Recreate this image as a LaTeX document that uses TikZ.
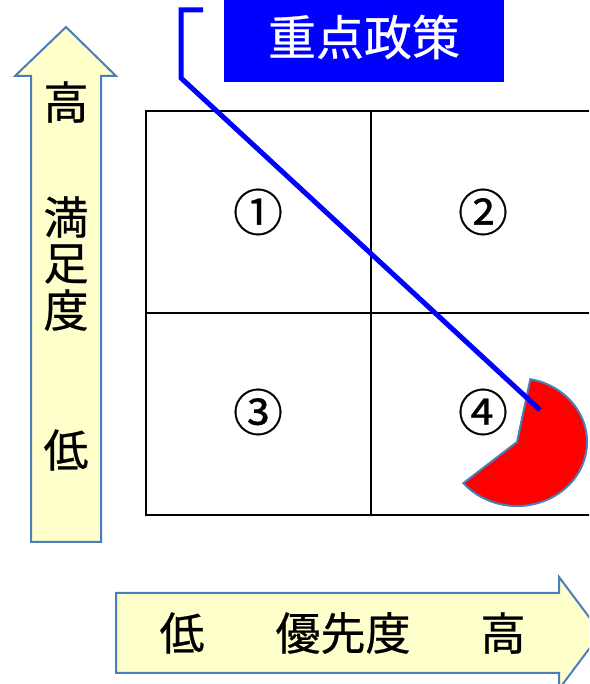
\documentclass[tikz,border=0pt]{standalone}
\usepackage{fontspec}
\newfontfamily\jpfont[FakeBold=0.6]{Noto Sans CJK JP}
\definecolor{pale}{RGB}{255, 255, 204}
\definecolor{edge}{RGB}{74, 126, 187}
\tikzset{
  axislabel/.style={font=\jpfont\fontsize{45}{45}\selectfont, inner sep=0},
  cellmark/.style={font=\jpfont\fontsize{50}{50}\selectfont, inner sep=0}
}

\begin{document}
\begin{tikzpicture}[x=1pt, y=1pt, thick]
  \useasboundingbox (0, 0) rectangle (589, 684);
  \clip (0, 0) rectangle (589, 684);

  % satisfaction (vertical) and priority (horizontal) arrows
  \draw [color=edge, fill=pale, line width=2] (31, 142) -- (101, 142) -- (101, 608)
  -- (116, 608) -- (66, 657) -- (15, 608) -- (31, 608) -- cycle;
  \draw [color=edge, fill=pale, line width=2] (116, 11) -- (559, 11) -- (559, -5)
  -- (601, 51) -- (559, 107) -- (559, 91) -- (116, 91) -- cycle;

  \node [axislabel] (vhigh) at (66, 582) {高};
  \node [axislabel] (vman) at (66, 467) {満};
  \node [axislabel] (vsoku) at (66, 420) {足};
  \node [axislabel] (vdo) at (66, 374) {度};
  \node [axislabel] (vlow) at (66, 234) {低};

  \node [axislabel] (hlow) at (182, 51) {低};
  \node [axislabel] (hprio) at (343, 51) {優先度};
  \node [axislabel] (hhigh) at (503, 51) {高};

  % the 2x2 grid
  \draw [line width=2] (146, 169) rectangle (600, 573);
  \draw [line width=2] (146, 371) -- (600, 371);
  \draw [line width=2] (371, 169) -- (371, 573);

  \node [cellmark] (c1) at (258, 472) {①};
  \node [cellmark] (c2) at (483, 472) {②};
  \node [cellmark] (c3) at (258, 272) {③};
  \node [cellmark] (c4) at (483, 272) {④};

  \coordinate (pie) at (517, 242);
  \fill [fill=red, draw=edge, line width=2] (pie) -- ([shift={(79:70 and 64)}]pie)
  arc [start angle=79, end angle=-140, x radius=70, y radius=64] -- cycle;

  % key policy callout
  \node [fill=blue, text=white, font=\jpfont\fontsize{48}{48}\selectfont,
  minimum width=280, minimum height=90, inner sep=0] (policy) at (364, 647) {重点政策};

  \coordinate (hookend) at (203, 674);
  \coordinate (hooktop) at (181, 674);
  \coordinate (hookbend) at (181, 606);
  \coordinate (tip) at (540, 274);
  \draw [color=blue, line width=5] (hookend) -- (hooktop) -- (hookbend) -- (tip);
\end{tikzpicture}
\end{document}
